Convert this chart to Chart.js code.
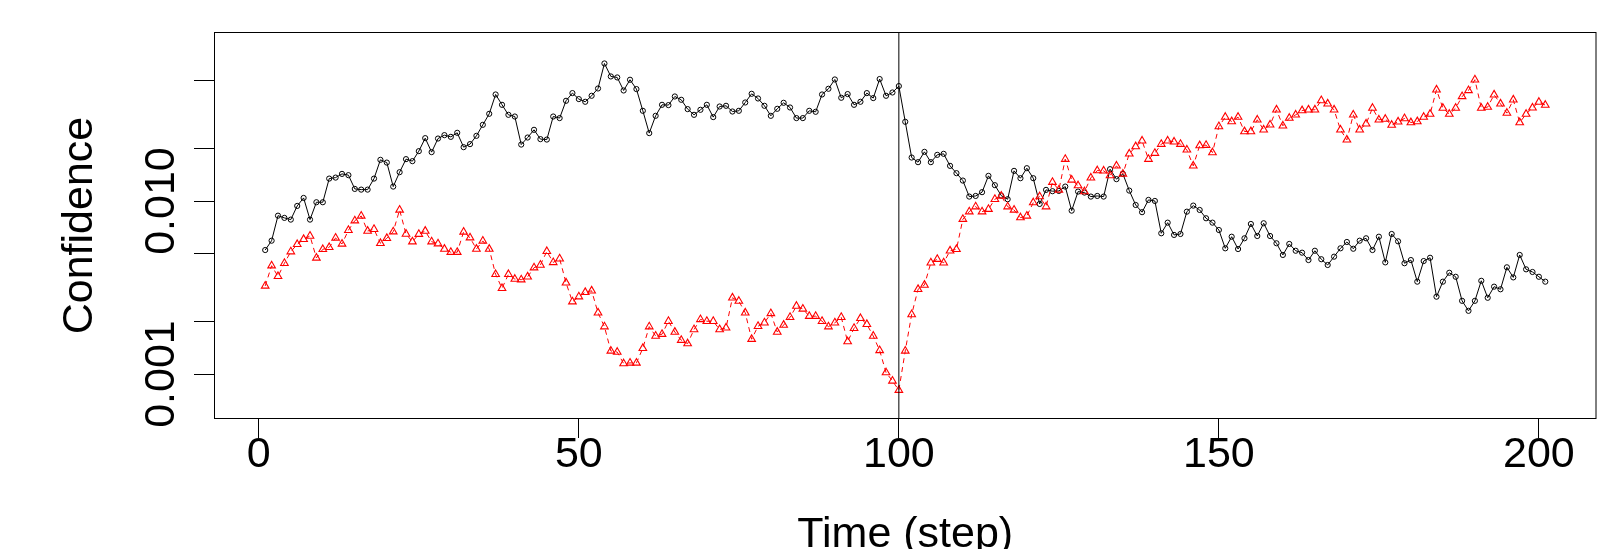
<!DOCTYPE html>
<html>
<head>
<meta charset="utf-8">
<title>Confidence over time</title>
<script src="https://cdn.jsdelivr.net/npm/chart.js"></script>
<style>
  html, body { margin: 0; padding: 0; background: #fff; }
  #chart { display: block; width: 1602px; height: 549px; }
</style>
</head>
<body>
<canvas id="chart" width="1602" height="549"></canvas>
<script>
/* Time steps 1..201 (x positions of both series) */
const steps = Array.from({ length: 201 }, (_, i) => i + 1);

/* Black series (open circles, solid line) */
const blackConf = [
  0.00521, 0.00590, 0.00823, 0.00799, 0.00781, 0.00937, 0.01042, 0.00781, 0.00984, 0.00984,
  0.01348, 0.01366, 0.01435, 0.01411, 0.01175, 0.01164, 0.01164, 0.01348, 0.01730, 0.01668,
  0.01212, 0.01468, 0.01746, 0.01700, 0.01942, 0.02309, 0.01917, 0.02297, 0.02403, 0.02349,
  0.02479, 0.02048, 0.02132, 0.02381, 0.02757, 0.03192, 0.04128, 0.03598, 0.03149, 0.03079,
  0.02120, 0.02328, 0.02580, 0.02279, 0.02266, 0.03079, 0.03015, 0.03796, 0.04205, 0.03883,
  0.03746, 0.04057, 0.04471, 0.06237, 0.05248, 0.05178, 0.04354, 0.05022, 0.04436, 0.03322,
  0.02469, 0.03108, 0.03598, 0.03584, 0.04020, 0.03847, 0.03398, 0.03149, 0.03367, 0.03598,
  0.03055, 0.03518, 0.03551, 0.03291, 0.03322, 0.03711, 0.04166, 0.03914, 0.03551, 0.03108,
  0.03412, 0.03696, 0.03472, 0.03015, 0.03015, 0.03322, 0.03278, 0.04128, 0.04454, 0.05041,
  0.03951, 0.04150, 0.03598, 0.03746, 0.04205, 0.03935, 0.05069, 0.04057, 0.04239, 0.04616,
  0.02870, 0.01784, 0.01677, 0.01924, 0.01677, 0.01849, 0.01874, 0.01597, 0.01449, 0.01313,
  0.01061, 0.01070, 0.01125, 0.01398, 0.01235, 0.01075, 0.01024, 0.01494, 0.01355, 0.01548,
  0.01355, 0.00962, 0.01160, 0.01140, 0.01144, 0.01212, 0.00880, 0.01134, 0.01119, 0.01061,
  0.01070, 0.01061, 0.01528, 0.01338, 0.01435, 0.01149, 0.00949, 0.00862, 0.01015, 0.01001,
  0.00651, 0.00750, 0.00637, 0.00645, 0.00868, 0.00941, 0.00888, 0.00795, 0.00750, 0.00680,
  0.00533, 0.00622, 0.00528, 0.00609, 0.00737, 0.00628, 0.00744, 0.00628, 0.00570, 0.00488,
  0.00565, 0.00516, 0.00503, 0.00456, 0.00516, 0.00461, 0.00427, 0.00477, 0.00533, 0.00580,
  0.00530, 0.00590, 0.00609, 0.00521, 0.00622, 0.00442, 0.00645, 0.00585, 0.00437, 0.00456,
  0.00342, 0.00450, 0.00470, 0.00280, 0.00342, 0.00385, 0.00365, 0.00265, 0.00232, 0.00265,
  0.00346, 0.00276, 0.00320, 0.00309, 0.00414, 0.00362, 0.00488, 0.00403, 0.00389, 0.00365, 0.00342
];

/* Red series (open triangles, dashed line) */
const redConf = [
  0.00323, 0.00423, 0.00367, 0.00437, 0.00510, 0.00562, 0.00601, 0.00628, 0.00469, 0.00526,
  0.00540, 0.00612, 0.00565, 0.00678, 0.00770, 0.00820, 0.00671, 0.00687, 0.00570, 0.00609,
  0.00665, 0.00888, 0.00645, 0.00582, 0.00643, 0.00671, 0.00582, 0.00567, 0.00528, 0.00506,
  0.00506, 0.00663, 0.00614, 0.00528, 0.00588, 0.00528, 0.00377, 0.00313, 0.00377, 0.00354,
  0.00351, 0.00365, 0.00412, 0.00427, 0.00512, 0.00442, 0.00464, 0.00337, 0.00262, 0.00280,
  0.00297, 0.00303, 0.00226, 0.00188, 0.00136, 0.00134, 0.00115, 0.00116, 0.00116, 0.00141,
  0.00188, 0.00166, 0.00170, 0.00202, 0.00175, 0.00157, 0.00150, 0.00181, 0.00207, 0.00202,
  0.00202, 0.00181, 0.00185, 0.00276, 0.00264, 0.00226, 0.00159, 0.00189, 0.00198, 0.00224,
  0.00175, 0.00192, 0.00213, 0.00247, 0.00238, 0.00216, 0.00216, 0.00202, 0.00188, 0.00198,
  0.00213, 0.00154, 0.00184, 0.00210, 0.00194, 0.00166, 0.00137, 0.00102, 0.000913, 0.000807,
  0.00136, 0.00221, 0.00309, 0.00327, 0.00440, 0.00461, 0.00440, 0.00516, 0.00526, 0.00785,
  0.00868, 0.00928, 0.00868, 0.00897, 0.01024, 0.01070, 0.00928, 0.00888, 0.00802, 0.00820,
  0.00979, 0.01061, 0.00928, 0.01285, 0.01160, 0.01746, 0.01325, 0.01228, 0.01134, 0.01361,
  0.01500, 0.01494, 0.01403, 0.01597, 0.01435, 0.01874, 0.02065, 0.02227, 0.01746, 0.01891,
  0.02132, 0.02227, 0.02198, 0.02132, 0.01976, 0.01597, 0.02093, 0.02104, 0.01906, 0.02696,
  0.03055, 0.02881, 0.03055, 0.02522, 0.02522, 0.02947, 0.02580, 0.02757, 0.03367, 0.02721,
  0.03015, 0.03149, 0.03335, 0.03367, 0.03367, 0.03811, 0.03647, 0.03367, 0.02580, 0.02257,
  0.03149, 0.02580, 0.02794, 0.03444, 0.02947, 0.02975, 0.02746, 0.02870, 0.02999, 0.02843,
  0.02881, 0.03055, 0.03179, 0.04395, 0.03444, 0.03179, 0.03444, 0.04020, 0.04354, 0.05022,
  0.03444, 0.03490, 0.04112, 0.03647, 0.03222, 0.03847, 0.02843, 0.03179, 0.03457, 0.03731, 0.03584
];

/* Axes */
const xMin = -7;
const xMax = 209;
const xTicks = [0, 50, 100, 150, 200];
const yMin = 0.00055;
const yMax = 0.0948;
const yTicks = [0.001, 0.002, 0.005, 0.01, 0.02, 0.05];
const yLabelValues = [0.001, 0.01];
const yLabelTexts = ["0.001", "0.010"];
const vLineX = 100;

const FONT = "Liberation Sans, Arial, sans-serif";

/* Box around the plot and the rotated y tick labels (R style) */
const rFrame = {
  id: "rFrame",
  afterDraw(chart) {
    const { ctx, chartArea: a } = chart;
    const yScale = chart.scales.y;
    ctx.save();
    ctx.strokeStyle = "#000";
    ctx.lineWidth = 1;
    ctx.strokeRect(a.left + 0.5, a.top + 0.5, a.right - a.left - 1, a.bottom - a.top - 1);

    ctx.fillStyle = "#000";
    ctx.font = `43px ${FONT}`;
    ctx.textAlign = "center";
    ctx.textBaseline = "alphabetic";
    yLabelValues.forEach((v, i) => {
      const py = yScale.getPixelForValue(v);
      ctx.save();
      ctx.translate(173.5, py);
      ctx.rotate(-Math.PI / 2);
      ctx.fillText(yLabelTexts[i], 0, 0);
      ctx.restore();
    });
    ctx.restore();
  }
};

Chart.defaults.font.family = FONT;
Chart.defaults.color = "#000";

new Chart(document.getElementById("chart"), {
  type: "line",
  data: {
    labels: steps,
    datasets: [
      {
        /* abline(v = 100) */
        data: [{ x: vLineX, y: yMin }, { x: vLineX, y: yMax }],
        borderColor: "#000",
        borderWidth: 1,
        pointRadius: 0
      },
      {
        data: redConf,
        borderColor: "#ff0000",
        borderWidth: 1,
        borderDash: [5, 4],
        pointStyle: "triangle",
        pointRadius: 4.4,
        pointBorderColor: "#ff0000",
        pointBackgroundColor: "rgba(0,0,0,0)",
        pointBorderWidth: 1.1,
        tension: 0
      },
      {
        data: blackConf,
        borderColor: "#000",
        borderWidth: 1,
        pointStyle: "circle",
        pointRadius: 2.6,
        pointBorderColor: "#000",
        pointBackgroundColor: "rgba(0,0,0,0)",
        pointBorderWidth: 1,
        tension: 0
      }
    ]
  },
  options: {
    responsive: false,
    animation: false,
    devicePixelRatio: 1,
    layout: { padding: { left: 0, right: 2, top: 32, bottom: 0 } },
    plugins: { legend: { display: false }, tooltip: { enabled: false } },
    scales: {
      x: {
        type: "linear",
        min: xMin,
        max: xMax,
        afterBuildTicks: scale => { scale.ticks = xTicks.map(v => ({ value: v })); },
        afterFit: scale => { scale.height = 130; },
        border: { display: false },
        grid: { drawOnChartArea: false, drawTicks: true, tickLength: 19, color: "#000", lineWidth: 1 },
        ticks: { font: { size: 43, lineHeight: 1 }, padding: -4, maxRotation: 0, autoSkip: false },
        title: {
          display: true,
          text: "Time (step)",
          font: { size: 43, lineHeight: 1 },
          padding: { top: 0, bottom: -8 }
        }
      },
      y: {
        type: "logarithmic",
        min: yMin,
        max: yMax,
        afterBuildTicks: scale => { scale.ticks = yTicks.map(v => ({ value: v })); },
        afterFit: scale => { scale.width = 214; },
        border: { display: false },
        grid: { drawOnChartArea: false, drawTicks: true, tickLength: 20, color: "#000", lineWidth: 1 },
        ticks: { display: false },
        title: {
          display: true,
          text: "Confidence",
          font: { size: 43, lineHeight: 1 },
          padding: { top: 59, bottom: 0 }
        }
      }
    }
  },
  plugins: [rFrame]
});
</script>
</body>
</html>
